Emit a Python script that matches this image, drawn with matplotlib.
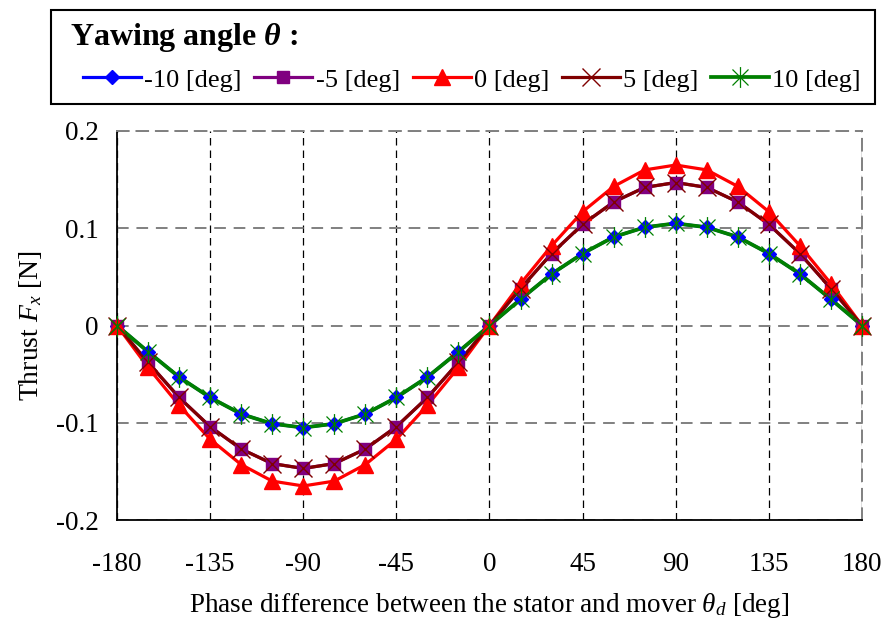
import matplotlib
matplotlib.use('Agg')
import matplotlib.pyplot as plt
from matplotlib.lines import Line2D
from matplotlib.patches import Rectangle
from matplotlib.path import Path

plt.rcParams['font.family'] = ['Liberation Serif', 'DejaVu Serif']
plt.rcParams['mathtext.fontset'] = 'custom'
plt.rcParams['mathtext.rm'] = 'Liberation Serif'
plt.rcParams['mathtext.it'] = 'Liberation Serif:italic'
plt.rcParams['mathtext.bf'] = 'Liberation Serif:bold'
plt.rcParams['mathtext.bfit'] = 'Liberation Serif:bold:italic'

# phase difference between stator and mover [deg]
phase = [-180, -165, -150, -135, -120, -105, -90, -75, -60, -45, -30, -15, 0,
         15, 30, 45, 60, 75, 90, 105, 120, 135, 150, 165, 180]

# thrust Fx [N] for each yawing angle
thrust_m10 = [0, -0.027, -0.053, -0.074, -0.091, -0.101, -0.105, -0.101, -0.091, -0.074, -0.053, -0.027, 0,
              0.027, 0.053, 0.074, 0.091, 0.101, 0.105, 0.101, 0.091, 0.074, 0.053, 0.027, 0]
thrust_m5 = [0, -0.038, -0.074, -0.104, -0.127, -0.142, -0.147, -0.142, -0.127, -0.104, -0.074, -0.038, 0,
             0.038, 0.074, 0.104, 0.127, 0.142, 0.147, 0.142, 0.127, 0.104, 0.074, 0.038, 0]
thrust_0 = [0, -0.043, -0.082, -0.117, -0.143, -0.160, -0.165, -0.160, -0.143, -0.117, -0.082, -0.043, 0,
            0.043, 0.082, 0.117, 0.143, 0.160, 0.165, 0.160, 0.143, 0.117, 0.082, 0.043, 0]
thrust_p5 = [0, -0.038, -0.074, -0.104, -0.127, -0.142, -0.147, -0.142, -0.127, -0.104, -0.074, -0.038, 0,
             0.038, 0.074, 0.104, 0.127, 0.142, 0.147, 0.142, 0.127, 0.104, 0.074, 0.038, 0]
thrust_p10 = [0, -0.027, -0.053, -0.074, -0.091, -0.101, -0.105, -0.101, -0.091, -0.074, -0.053, -0.027, 0,
              0.027, 0.053, 0.074, 0.091, 0.101, 0.105, 0.101, 0.091, 0.074, 0.053, 0.027, 0]

labels = ['-10 [deg]', '-5 [deg]', '0 [deg]', '5 [deg]', '10 [deg]']
x_ticks = [-180, -135, -90, -45, 0, 45, 90, 135, 180]
y_ticks = [-0.2, -0.1, 0, 0.1, 0.2]
y_tick_labels = ['-0.2', '-0.1', '0', '0.1', '0.2']

# Excel-like star: an x with a vertical bar through it
star = Path([(-1, -1), (1, 1), (-1, 1), (1, -1), (0, -1.3), (0, 1.3)],
            [Path.MOVETO, Path.LINETO, Path.MOVETO, Path.LINETO, Path.MOVETO, Path.LINETO])

series = [
    (thrust_m10, '#0000ff', 'D', 7, 2.3, 1.0),
    (thrust_m5, '#800080', 's', 9, 2.3, 1.0),
    (thrust_0, '#ff0000', '^', 11, 2.3, 1.0),
    (thrust_p5, '#800000', 'x', 13, 2.3, 1.0),
    (thrust_p10, '#008000', star, 15, 2.7, 0.9),
]

W, H = 887, 619
fig = plt.figure(figsize=(W / 100, H / 100), dpi=100)
ax = fig.add_axes([117 / W, 1 - 520 / H, 745 / W, 389 / H])

# lines first, then markers on top of all lines
for y, c, m, ms, lw, mew in series:
    ax.plot(phase, y, color=c, lw=lw, zorder=3, clip_on=False)
for y, c, m, ms, lw, mew in series:
    ax.plot(phase, y, ls='none', marker=m, ms=ms, color=c, mfc=c, mec=c, mew=mew,
            zorder=4, clip_on=False)

ax.set_xlim(-180, 180)
ax.set_ylim(-0.2, 0.2)
ax.set_xticks(x_ticks)
ax.set_xticklabels([str(t) for t in x_ticks])
ax.set_yticks(y_ticks)
ax.set_yticklabels(y_tick_labels)
ax.tick_params(axis='both', length=0, labelsize=19.5)
ax.tick_params(axis='x', pad=23)
ax.tick_params(axis='y', pad=13)

ax.xaxis.grid(True, color='black', ls=(0, (6, 4)), lw=0.9)
ax.yaxis.grid(True, color='#808080', ls=(0, (6, 4)), lw=1.4)
ax.set_axisbelow(True)

for side in ['left', 'bottom']:
    ax.spines[side].set_color('black')
    ax.spines[side].set_linewidth(1.3)
for side in ['top', 'right']:
    ax.spines[side].set_color('#808080')
    ax.spines[side].set_linewidth(1.4)
    ax.spines[side].set_linestyle((0, (6, 4)))

ax.set_xlabel(r'Phase difference between the stator and mover $\theta_d$ [deg]', fontsize=19.5, labelpad=10)
ax.set_ylabel(r'Thrust $F_x$ [N]', fontsize=20, labelpad=9)

# legend box with its title above the row of entries
fig.patches.append(Rectangle((51 / W, 1 - 104 / H), 824 / W, 94 / H, transform=fig.transFigure,
                             facecolor='white', edgecolor='black', lw=1.5, zorder=0))
fig.text(70 / W, 1 - 38 / H, r'Yawing angle $\mathbfit{\theta}$ :', fontsize=23, fontweight='bold',
         ha='left', va='center')

handles = []
for y, c, m, ms, lw, mew in series:
    handles.append(Line2D([], [], color=c, lw=lw, marker=m, ms=ms, mfc=c, mec=c, mew=mew))

leg = fig.legend(handles, labels, ncol=5, loc='center',
                 bbox_to_anchor=(83 / W, 1 - 96 / H, 778 / W, 32 / H),
                 mode='expand', fontsize=19, frameon=False,
                 handlelength=2.2, handletextpad=0.12, columnspacing=0.5,
                 borderpad=0, borderaxespad=0)

fig.savefig('out.png', dpi=100)
